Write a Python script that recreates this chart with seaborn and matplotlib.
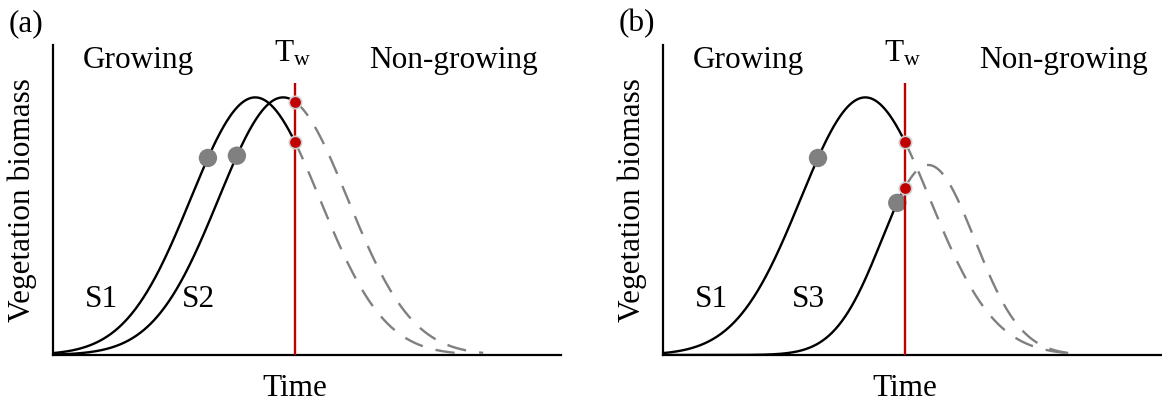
import numpy as np
import pandas as pd
import matplotlib
matplotlib.use("Agg")
import matplotlib.pyplot as plt
import seaborn as sns

# ---------------- data (conceptual curves, time in arbitrary units) ----------------
curve_names = ["S1", "S2", "S1", "S3"]
curve_panel = ["a", "a", "b", "b"]
peak_time = [39.8, 45.3, 39.8, 52.2]       # time of maximum biomass
peak_height = [0.831, 0.831, 0.831, 0.613]  # maximum biomass
curve_width = [12.7, 12.7, 12.7, 9.15]      # spread of the seasonal curve
dot_time = [30.5, 36.2, 30.5, 46.1]         # grey marker along each curve
T_w = 47.6                                  # start of the non-growing period
tw_line_top = 0.878
panel_labels = ["(a)", "(b)"]
x_limits = [100.0, 98.0]

W, H = 1162, 404
sns.set_style("white")
plt.rcParams["font.family"] = ["Liberation Serif", "DejaVu Serif"]
plt.rcParams["mathtext.fontset"] = "custom"
plt.rcParams["mathtext.rm"] = "Liberation Serif"
plt.rcParams["mathtext.it"] = "Liberation Serif:italic"
plt.rcParams["text.color"] = "black"

fig = plt.figure(figsize=(W / 100, H / 100), dpi=100)
axes = {
    "a": fig.add_axes([53 / W, (H - 355) / H, 508 / W, 310 / H]),
    "b": fig.add_axes([663 / W, (H - 355) / H, 498 / W, 310 / H]),
}
spine_px = {"a": 53, "b": 663}

FS = 22.5
BLACK = "#000000"
GREY = "#808080"
RED = "#C00000"


def bell(t, mu, h, s):
    return h * np.exp(-0.5 * ((t - mu) / s) ** 2)


for name, pan, mu, h, s, td in zip(curve_names, curve_panel, peak_time,
                                   peak_height, curve_width, dot_time):
    ax = axes[pan]
    t_solid = np.linspace(0, T_w, 300)
    t_dash = np.linspace(T_w, mu + 3.1 * s, 300)
    sns.lineplot(x=t_solid, y=bell(t_solid, mu, h, s), ax=ax, color=BLACK,
                 lw=1.7, sort=False, zorder=2)
    sns.lineplot(x=t_dash, y=bell(t_dash, mu, h, s), ax=ax, color=GREY,
                 lw=1.7, sort=False, zorder=3.2,
                 linestyle=(0, (8.2, 5.6)))
    sns.scatterplot(x=[td], y=[bell(td, mu, h, s)], ax=ax, s=175, color=GREY,
                    edgecolor="none", zorder=3, legend=False)
    sns.scatterplot(x=[T_w], y=[bell(T_w, mu, h, s)], ax=ax, s=80, color=RED,
                    edgecolor="#cfcfcf", linewidth=1.2, zorder=5, legend=False)

for i, pan in enumerate(["a", "b"]):
    ax = axes[pan]
    ax.plot([T_w, T_w], [0, tw_line_top], color=RED, lw=1.7, zorder=4,
            solid_capstyle="butt")
    ax.set_xlim(0, x_limits[i])
    ax.set_ylim(0, 1)
    ax.set_xticks([])
    ax.set_yticks([])
    ax.set_xlabel("")
    ax.set_ylabel("")
    for sp in ["top", "right"]:
        ax.spines[sp].set_visible(False)
    for sp in ["left", "bottom"]:
        ax.spines[sp].set_color(BLACK)
        ax.spines[sp].set_linewidth(1.6)
        ax.spines[sp].set_zorder(2.5)

    x0 = spine_px[pan]

    def ftext(px, py, s, **kw):
        fig.text(px / W, 1 - py / H, s, fontsize=FS, color="black", **kw)

    ftext(x0 - 44, 24, panel_labels[i], ha="left", va="center")
    ftext(x0 + 30, 68, "Growing", ha="left", va="baseline")
    ftext(x0 + 316, 68, "Non-growing", ha="left", va="baseline")
    ftext(x0 - 31, 200, "Vegetation biomass", rotation=90, ha="center",
          va="center")

    tw_px = x0 + T_w * 5.08
    ftext(tw_px - 2, 62, r"T$_{\mathrm{w}}$", ha="center", va="baseline")
    ftext(tw_px, 396, "Time", ha="center", va="baseline")

    names = [n for n, p in zip(curve_names, curve_panel) if p == pan]
    ftext(x0 + 32, 307, names[0], ha="left", va="baseline")
    ftext(x0 + 129, 307, names[1], ha="left", va="baseline")

fig.savefig("out.png", dpi=100)
